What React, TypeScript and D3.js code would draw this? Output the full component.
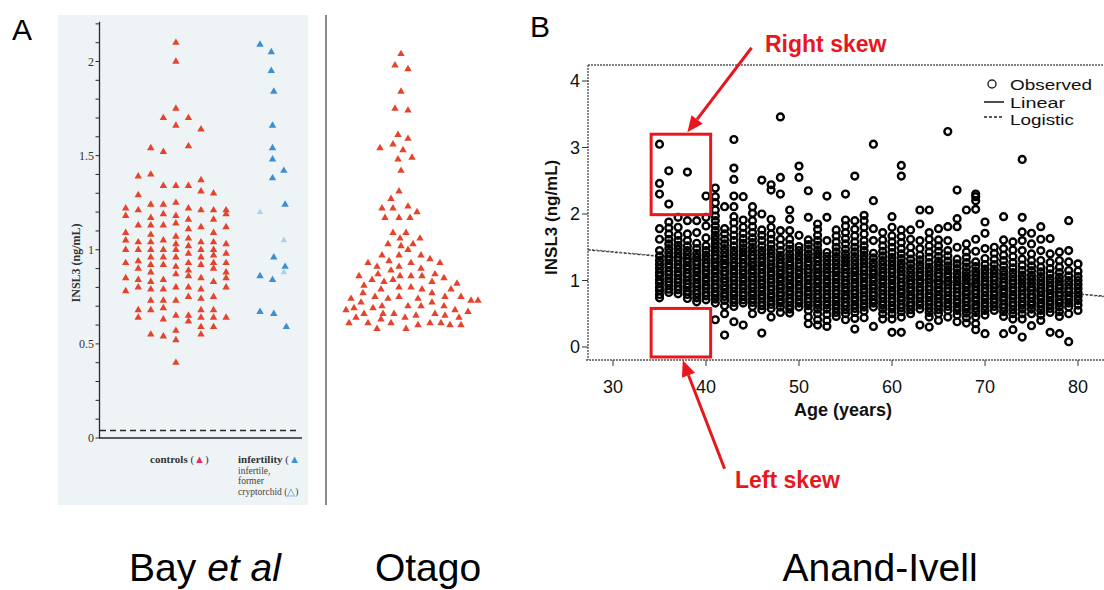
import React from "react";
import * as d3 from "d3";

const W = 1104;
const H = 590;

// ---------- Panel A, Bay et al: controls, nine columns of values (ng/mL) ----------
const bayControlColumns: number[][] = [
  [1.22, 1.18, 1.09, 1.05, 1.0, 0.93, 0.85, 0.78],
  [1.39, 1.29, 1.21, 1.13, 1.04, 1.0, 0.94, 0.9, 0.84, 0.8, 0.68, 0.64],
  [1.54, 1.4, 1.24, 1.17, 1.13, 1.08, 1.04, 1.0, 0.96, 0.92, 0.88, 0.83, 0.79, 0.73, 0.68, 0.55],
  [1.7, 1.52, 1.34, 1.24, 1.19, 1.13, 1.05, 1.0, 0.96, 0.92, 0.84, 0.79, 0.73, 0.69, 0.63, 0.54],
  [2.1, 2.0, 1.75, 1.66, 1.34, 1.25, 1.18, 1.14, 1.07, 1.03, 1.0, 0.96, 0.91, 0.87, 0.8, 0.73, 0.65, 0.57, 0.52, 0.4],
  [1.7, 1.55, 1.34, 1.22, 1.16, 1.11, 1.06, 1.02, 0.98, 0.93, 0.89, 0.86, 0.8, 0.75, 0.65, 0.62],
  [1.64, 1.37, 1.31, 1.21, 1.12, 1.04, 1.0, 0.96, 0.92, 0.85, 0.79, 0.74, 0.68, 0.64, 0.59, 0.55],
  [1.3, 1.21, 1.16, 1.09, 1.04, 1.0, 0.97, 0.93, 0.9, 0.83, 0.75, 0.68, 0.64, 0.59],
  [1.21, 1.19, 1.12, 1.03, 0.98, 0.93, 0.88, 0.85, 0.8, 0.64],
];

// infertility group (filled blue) and former cryptorchid (pale blue)
const bayInfertileValues = [2.09, 2.05, 1.95, 1.84, 1.66, 1.54, 1.48, 1.42, 1.38, 1.24, 0.96, 0.91, 0.86, 0.84, 0.67, 0.66, 0.59];
const bayInfertileSlots = [10.7, 11.6, 11.6, 11.8, 11.7, 11.7, 11.7, 12.6, 11.7, 12.7, 11.8, 12.7, 10.7, 11.7, 10.7, 11.8, 12.8];
const bayCryptValues = [1.2, 1.05, 0.88];
const bayCryptSlots = [10.7, 12.6, 12.6];

const bayTicks = [0, 0.5, 1, 1.5, 2];
const bayTickLabels = ["0", "0.5", "1", "1.5", "2"];
const bayMinorTicks = d3.range(0, 23).map((i) => i / 10);

// ---------- Panel A, Otago cohort ----------
const otagoValues = [
  2.04, 1.98, 1.96, 1.84, 1.75, 1.74, 1.61, 1.59, 1.56, 1.54, 1.53, 1.49, 1.48, 1.42,
  1.31, 1.27, 1.22, 1.22, 1.23, 1.2, 1.17, 1.17, 1.17, 1.09, 1.09, 1.06, 1.06, 1.03, 1.03,
  1.02, 1.0, 0.97, 0.97, 0.97, 0.95, 0.94, 0.93, 0.93, 0.93, 0.91, 0.91, 0.9, 0.89, 0.87,
  0.87, 0.86, 0.86, 0.86, 0.86, 0.85, 0.84, 0.84, 0.83, 0.83, 0.82, 0.81, 0.8, 0.8, 0.79,
  0.79, 0.79, 0.77, 0.77, 0.75, 0.75, 0.75, 0.75, 0.74, 0.74, 0.74, 0.73, 0.73, 0.72,
  0.72, 0.7, 0.7, 0.7, 0.7, 0.69, 0.69, 0.68, 0.68, 0.67, 0.66, 0.66, 0.66, 0.66, 0.65,
  0.65, 0.64, 0.64, 0.64, 0.63, 0.61, 0.61, 0.61, 0.61, 0.61, 0.6, 0.6, 0.6, 0.58, 0.58,
];
const otagoSlots = [
  0, -0.6, 0.7, 0, -0.6, 0.7, -0.3, 0.7, -0.8, -2.1, 0.2, 1.1, -0.3, 0,
  -0.2, -1.0, -1.9, -0.8, 0.7, 1.6, -1.6, -0.2, 0.9, -0.8, 0.5, -0.1, 1.9, -1.3, 1.2,
  0, 0.7, -1.9, -0.2, 2.0, 2.9, -1.2, 1.0, -3.3, 3.9, -2.4, -0.2, 2.0, -1.0, -2.3,
  3.4, -4.2, -0.1, 1.0, 2.1, 4.3, -0.8, -2.9, -1.7, 3.1, 5.6, -3.7, -0.2, 1.0, -2.0,
  2.1, 5.0, 3.1, -3.8, 6.0, -2.6, -0.2, 4.4, -1.3, -5.0, 1.7, 7.7, 7.0, -4.0,
  3.1, 0.7, -1.9, 4.3, 2.0, -4.7, -2.8, 5.4, -5.5, 6.7, -1.8, -0.7, 3.4, -3.7, 1.5,
  4.4, 5.8, -4.5, 0.4, -2.0, -5.2, -3.3, 2.9, 4.0, -1.0, 1.7, 4.9, 6.0, -2.4, 0.5,
];

// ---------- Panel B, Anand-Ivell: observed INSL3 (ng/mL) by age (years) ----------
const obsAges = [
  35, 36, 37, 38, 39, 40, 41, 42, 43, 44, 45, 46, 47, 48, 49, 50, 51, 52, 53, 54, 55, 56, 57,
  58, 59, 60, 61, 62, 63, 64, 65, 66, 67, 68, 69, 70, 71, 72, 73, 74, 75, 76, 77, 78, 79, 80,
];
const obsValues: number[][] = [
  [0.74, 0.79, 0.85, 0.9, 0.96, 1.01, 1.07, 1.12, 1.18, 1.24, 1.3, 1.37, 1.45, 1.62, 1.78, 2.3, 2.46, 3.05],
  [0.82, 0.87, 0.93, 0.98, 1.03, 1.09, 1.14, 1.2, 1.25, 1.31, 1.36, 1.42, 1.48, 1.55, 1.62, 1.7, 1.79, 1.88, 2.15, 2.65],
  [0.8, 0.86, 0.91, 0.97, 1.02, 1.08, 1.13, 1.19, 1.24, 1.3, 1.35, 1.41, 1.47, 1.53, 1.6, 1.68, 1.8, 1.95],
  [0.73, 0.79, 0.84, 0.9, 0.95, 1.0, 1.06, 1.11, 1.17, 1.22, 1.28, 1.33, 1.39, 1.45, 1.52, 1.6, 1.7, 1.9, 2.63],
  [0.68, 0.74, 0.8, 0.85, 0.91, 0.96, 1.02, 1.07, 1.13, 1.18, 1.24, 1.29, 1.35, 1.41, 1.48, 1.56, 1.72, 1.9],
  [0.71, 0.77, 0.82, 0.88, 0.93, 0.99, 1.04, 1.1, 1.15, 1.21, 1.26, 1.32, 1.38, 1.45, 1.52, 1.64, 1.82, 1.95, 2.27],
  [0.41, 0.66, 0.72, 0.78, 0.83, 0.89, 0.94, 1.0, 1.05, 1.11, 1.16, 1.22, 1.27, 1.33, 1.38, 1.44, 1.5, 1.56, 1.62, 1.68, 1.75, 1.82, 1.9, 1.97, 2.06, 2.17, 2.26, 2.39],
  [0.18, 0.5, 0.62, 0.7, 0.76, 0.81, 0.87, 0.92, 0.98, 1.03, 1.09, 1.14, 1.2, 1.25, 1.31, 1.36, 1.42, 1.48, 1.55, 1.62, 1.7, 1.78, 2.11],
  [0.38, 0.61, 0.67, 0.72, 0.78, 0.83, 0.89, 0.94, 1.0, 1.05, 1.11, 1.16, 1.22, 1.27, 1.33, 1.39, 1.45, 1.52, 1.6, 1.68, 1.77, 1.87, 1.96, 2.11, 2.27, 2.52, 2.69, 3.12],
  [0.33, 0.66, 0.71, 0.77, 0.82, 0.88, 0.93, 0.99, 1.04, 1.1, 1.15, 1.21, 1.26, 1.32, 1.37, 1.43, 1.49, 1.56, 1.63, 1.71, 1.8, 1.91, 2.26],
  [0.5, 0.61, 0.67, 0.72, 0.78, 0.83, 0.89, 0.94, 1.0, 1.05, 1.11, 1.16, 1.22, 1.27, 1.33, 1.38, 1.44, 1.5, 1.57, 1.64, 1.72, 1.81, 1.9, 2.01, 2.11],
  [0.21, 0.56, 0.62, 0.67, 0.73, 0.78, 0.84, 0.89, 0.95, 1.0, 1.06, 1.11, 1.17, 1.22, 1.28, 1.33, 1.39, 1.45, 1.52, 1.6, 1.68, 1.76, 2.0, 2.51],
  [0.45, 0.58, 0.64, 0.69, 0.75, 0.8, 0.86, 0.91, 0.97, 1.02, 1.08, 1.13, 1.19, 1.24, 1.3, 1.35, 1.41, 1.47, 1.54, 1.62, 1.7, 1.8, 1.92, 2.36, 2.44],
  [0.52, 0.6, 0.66, 0.71, 0.77, 0.82, 0.88, 0.93, 0.99, 1.04, 1.1, 1.15, 1.21, 1.26, 1.32, 1.38, 1.45, 1.53, 1.62, 1.75, 2.3, 2.55, 3.46],
  [0.51, 0.57, 0.62, 0.68, 0.73, 0.79, 0.84, 0.9, 0.95, 1.01, 1.06, 1.12, 1.17, 1.23, 1.28, 1.34, 1.4, 1.47, 1.54, 1.62, 1.75, 1.92, 2.06],
  [0.6, 0.66, 0.71, 0.77, 0.82, 0.88, 0.93, 0.99, 1.04, 1.1, 1.15, 1.21, 1.26, 1.32, 1.38, 1.45, 1.51, 1.68, 2.55, 2.72],
  [0.35, 0.45, 0.55, 0.62, 0.68, 0.73, 0.79, 0.84, 0.9, 0.95, 1.01, 1.06, 1.12, 1.17, 1.23, 1.28, 1.34, 1.4, 1.47, 1.54, 1.61, 1.95, 2.35],
  [0.33, 0.41, 0.5, 0.57, 0.63, 0.68, 0.74, 0.79, 0.85, 0.9, 0.96, 1.01, 1.07, 1.12, 1.18, 1.23, 1.29, 1.34, 1.4, 1.46, 1.53, 1.6, 1.68, 1.77, 1.85],
  [0.31, 0.4, 0.49, 0.57, 0.63, 0.68, 0.74, 0.79, 0.85, 0.9, 0.96, 1.01, 1.07, 1.12, 1.18, 1.24, 1.3, 1.36, 1.42, 1.6, 1.95, 2.27],
  [0.46, 0.52, 0.58, 0.63, 0.69, 0.74, 0.8, 0.85, 0.91, 0.96, 1.02, 1.07, 1.13, 1.18, 1.24, 1.3, 1.36, 1.43, 1.5, 1.58, 1.67, 1.76],
  [0.41, 0.5, 0.56, 0.62, 0.67, 0.73, 0.78, 0.84, 0.89, 0.95, 1.0, 1.06, 1.11, 1.17, 1.22, 1.28, 1.34, 1.4, 1.47, 1.55, 1.63, 1.72, 1.82, 1.91, 2.3],
  [0.27, 0.43, 0.52, 0.58, 0.63, 0.69, 0.74, 0.8, 0.85, 0.91, 0.96, 1.02, 1.07, 1.13, 1.18, 1.24, 1.3, 1.36, 1.43, 1.5, 1.58, 1.67, 1.77, 1.9, 2.57],
  [0.44, 0.54, 0.6, 0.65, 0.71, 0.76, 0.82, 0.87, 0.93, 0.98, 1.04, 1.09, 1.15, 1.2, 1.26, 1.32, 1.38, 1.45, 1.52, 1.6, 1.7, 1.8, 1.9, 1.98],
  [0.31, 0.6, 0.66, 0.71, 0.77, 0.82, 0.88, 0.93, 0.99, 1.04, 1.1, 1.15, 1.21, 1.27, 1.34, 1.41, 1.6, 1.78, 2.2, 3.05],
  [0.42, 0.5, 0.57, 0.63, 0.68, 0.74, 0.79, 0.85, 0.9, 0.96, 1.01, 1.07, 1.12, 1.18, 1.24, 1.3, 1.37, 1.44, 1.52, 1.61, 1.72],
  [0.22, 0.42, 0.5, 0.57, 0.62, 0.68, 0.73, 0.79, 0.84, 0.9, 0.95, 1.01, 1.06, 1.12, 1.17, 1.23, 1.29, 1.35, 1.42, 1.5, 1.58, 1.67, 1.8, 1.96],
  [0.22, 0.45, 0.53, 0.59, 0.64, 0.7, 0.75, 0.81, 0.86, 0.92, 0.97, 1.03, 1.08, 1.14, 1.2, 1.26, 1.33, 1.4, 1.48, 1.57, 1.66, 1.76, 2.57, 2.73],
  [0.5, 0.56, 0.62, 0.67, 0.73, 0.78, 0.84, 0.89, 0.95, 1.0, 1.06, 1.12, 1.18, 1.25, 1.32, 1.4, 1.5, 1.62, 1.76],
  [0.33, 0.57, 0.63, 0.68, 0.74, 0.79, 0.85, 0.9, 0.96, 1.01, 1.07, 1.12, 1.18, 1.24, 1.31, 1.38, 1.48, 1.6, 1.85, 2.06],
  [0.3, 0.45, 0.52, 0.58, 0.64, 0.69, 0.75, 0.8, 0.86, 0.91, 0.97, 1.02, 1.08, 1.14, 1.2, 1.27, 1.35, 1.43, 1.52, 1.62, 1.72, 2.06],
  [0.4, 0.5, 0.56, 0.62, 0.67, 0.73, 0.78, 0.84, 0.89, 0.95, 1.0, 1.06, 1.11, 1.17, 1.23, 1.29, 1.36, 1.44, 1.52, 1.61, 1.78],
  [0.45, 0.55, 0.61, 0.66, 0.72, 0.77, 0.83, 0.88, 0.94, 0.99, 1.05, 1.1, 1.16, 1.22, 1.29, 1.37, 1.45, 1.6, 1.81, 3.24],
  [0.38, 0.48, 0.55, 0.6, 0.66, 0.71, 0.77, 0.82, 0.88, 0.93, 0.99, 1.05, 1.11, 1.18, 1.25, 1.32, 1.5, 1.81, 1.93, 2.36],
  [0.36, 0.44, 0.51, 0.57, 0.62, 0.68, 0.73, 0.79, 0.84, 0.9, 0.95, 1.01, 1.07, 1.13, 1.2, 1.27, 1.35, 1.43, 1.55, 2.06],
  [0.26, 0.35, 0.45, 0.52, 0.58, 0.63, 0.69, 0.74, 0.8, 0.85, 0.91, 0.96, 1.02, 1.08, 1.14, 1.21, 1.28, 1.44, 1.62, 2.07, 2.2, 2.26, 2.3],
  [0.2, 0.48, 0.55, 0.61, 0.66, 0.72, 0.77, 0.83, 0.88, 0.94, 0.99, 1.05, 1.11, 1.17, 1.24, 1.33, 1.48, 1.71, 1.88],
  [0.55, 0.61, 0.67, 0.72, 0.78, 0.83, 0.89, 0.94, 1.0, 1.05, 1.11, 1.17, 1.24, 1.32, 1.41, 1.5],
  [0.2, 0.46, 0.53, 0.59, 0.64, 0.7, 0.75, 0.81, 0.86, 0.92, 0.97, 1.03, 1.09, 1.15, 1.22, 1.3, 1.38, 1.48, 1.61, 1.96],
  [0.26, 0.42, 0.5, 0.56, 0.62, 0.67, 0.73, 0.78, 0.84, 0.89, 0.95, 1.0, 1.06, 1.12, 1.19, 1.27, 1.36, 1.46, 1.58],
  [0.15, 0.42, 0.5, 0.57, 0.63, 0.68, 0.74, 0.79, 0.85, 0.9, 0.96, 1.02, 1.08, 1.15, 1.23, 1.32, 1.45, 1.6, 1.73, 1.95, 2.82],
  [0.32, 0.5, 0.57, 0.63, 0.68, 0.74, 0.79, 0.85, 0.9, 0.96, 1.02, 1.08, 1.15, 1.22, 1.3, 1.4, 1.55, 1.71],
  [0.4, 0.48, 0.55, 0.61, 0.66, 0.72, 0.77, 0.83, 0.88, 0.94, 1.0, 1.06, 1.13, 1.2, 1.3, 1.45, 1.62, 1.81],
  [0.22, 0.52, 0.58, 0.64, 0.69, 0.75, 0.8, 0.86, 0.91, 0.97, 1.03, 1.1, 1.18, 1.27, 1.4, 1.63],
  [0.2, 0.46, 0.53, 0.6, 0.66, 0.71, 0.77, 0.82, 0.88, 0.93, 0.99, 1.05, 1.12, 1.2, 1.3, 1.43],
  [0.08, 0.5, 0.6, 0.66, 0.72, 0.77, 0.83, 0.88, 0.94, 1.0, 1.07, 1.15, 1.28, 1.45, 1.9],
  [0.55, 0.63, 0.7, 0.76, 0.82, 0.88, 0.94, 1.0, 1.06, 1.14, 1.25],
];

// fitted trends (endpoints)
const fitAges = [27.3, 83.2];
const linearFit = [1.46, 0.76];
const logisticFit = [1.47, 0.75];

const bYTicks = [0, 1, 2, 3, 4];
const bXTicks = [30, 40, 50, 60, 70, 80];

const legendLabels = ["Observed", "Linear", "Logistic"];
const legendWidths = [82, 55, 64];

// highlighted regions (age range, value range)
const skewBoxAges = [34.1, 40.5];
const rightSkewValues = [1.99, 3.2];
const leftSkewValues = [-0.15, 0.58];

const RED = "#e8161d";

// ---------- scales ----------
const bayY = d3.scaleLinear().domain([0, 2]).range([438, 61.5]);
const bayX = d3.scaleLinear().domain([0, 8]).range([125.7, 226.1]);
const otagoX = d3.scaleLinear().domain([0, 1]).range([401, 411]);
const bX = d3.scaleLinear().domain([30, 80]).range([613, 1078]);
const bY = d3.scaleLinear().domain([0, 4]).range([347, 81]);

const triangle = d3.symbol(d3.symbolTriangle, 24)() as string;
const smallTriangle = d3.symbol(d3.symbolTriangle, 18)() as string;

function arrowPath(x1: number, y1: number, x2: number, y2: number, len = 16, half = 7) {
  const a = Math.atan2(y2 - y1, x2 - x1);
  const bx = x2 - len * Math.cos(a);
  const by = y2 - len * Math.sin(a);
  const px = -Math.sin(a) * half;
  const py = Math.cos(a) * half;
  return {
    shaft: `M${x1},${y1}L${bx},${by}`,
    head: `M${x2},${y2}L${bx + px},${by + py}L${bx - px},${by - py}Z`,
  };
}

const fitLine = d3
  .line<number>()
  .x((_, i) => bX(fitAges[i]))
  .y((d) => bY(d));

export default function App() {
  const sans = "'Liberation Sans', Arial, sans-serif";
  const serif = "'Liberation Serif', 'Times New Roman', serif";

  const rightArrow = arrowPath(bX(44.9), bY(4.5), bX(38.0), bY(3.23));
  const leftArrow = arrowPath(bX(42.0), bY(-1.83), bX(37.5), bY(-0.2));

  const obsPoints: { age: number; v: number }[] = [];
  obsAges.forEach((age, i) => obsValues[i].forEach((v) => obsPoints.push({ age, v })));

  const legendY = [90, 107.5, 125];

  return (
    <svg
      width={W}
      height={H}
      viewBox={`0 0 ${W} ${H}`}
      style={{ position: "absolute", left: 0, top: 0, background: "#fff" }}
    >
      {/* ===== Panel A ===== */}
      <text x={12} y={40} fontFamily={sans} fontSize={30}>A</text>

      {/* scanned page background */}
      <rect x={58} y={15} width={250} height={490} fill="#eef3f6" />

      {/* Bay axis */}
      <g stroke="#2a2a2a" fill="none">
        <line x1={99.5} x2={99.5} y1={bayY(2.2) - 2} y2={bayY(0)} strokeWidth={1.3} />
        <line x1={99} x2={302} y1={bayY(0)} y2={bayY(0)} strokeWidth={1.3} />
        {bayMinorTicks.map((t) => (
          <line key={t} x1={95.5} x2={99.5} y1={bayY(t)} y2={bayY(t)} strokeWidth={1} />
        ))}
        <line
          x1={100}
          x2={300}
          y1={bayY(0.04)}
          y2={bayY(0.04)}
          strokeWidth={1.5}
          strokeDasharray="6,4"
        />
      </g>
      {bayTicks.map((t, i) => (
        <text
          key={t}
          x={94}
          y={bayY(t) + 4}
          textAnchor="end"
          fontFamily={serif}
          fontSize={12}
          fill="#333"
        >
          {bayTickLabels[i]}
        </text>
      ))}
      <text
        transform={`translate(80,${bayY(0.93)}) rotate(-90)`}
        textAnchor="middle"
        fontFamily={serif}
        fontSize={12}
        fontWeight="bold"
        fill="#333"
      >
        INSL3 (ng/mL)
      </text>

      {/* Bay controls */}
      {bayControlColumns.map((col, k) =>
        col.map((v, j) => (
          <path
            key={`c${k}-${j}`}
            d={triangle}
            transform={`translate(${bayX(k)},${bayY(v)})`}
            fill="#e5442b"
          />
        ))
      )}
      {bayInfertileValues.map((v, i) => (
        <path
          key={`inf${i}`}
          d={triangle}
          transform={`translate(${bayX(bayInfertileSlots[i])},${bayY(v)})`}
          fill="#3c8fd3"
        />
      ))}
      {bayCryptValues.map((v, i) => (
        <path
          key={`cr${i}`}
          d={smallTriangle}
          transform={`translate(${bayX(bayCryptSlots[i])},${bayY(v)})`}
          fill="#a9d2ef"
        />
      ))}

      <text x={150} y={463} fontFamily={serif} fontSize={11} fontWeight="bold" fill="#333">
        controls{" "}
        <tspan fontWeight="normal">(</tspan>
        <tspan fill="#e0306a">▲</tspan>
        <tspan fontWeight="normal">)</tspan>
      </text>
      <text x={238} y={463} fontFamily={serif} fontSize={11} fontWeight="bold" fill="#333">
        infertility <tspan fontWeight="normal">(</tspan>
        <tspan fill="#3c8fd3">▲</tspan>
      </text>
      <text x={238} y={474} fontFamily={serif} fontSize={9.5} fill="#444">infertile,</text>
      <text x={238} y={484} fontFamily={serif} fontSize={9.5} fill="#444">former</text>
      <text x={238} y={495} fontFamily={serif} fontSize={9.5} fill="#444">
        cryptorchid (<tspan fill="#3c8fd3">△</tspan>)
      </text>

      {/* divider */}
      <line x1={326} x2={326} y1={15} y2={505} stroke="#8a8a8a" strokeWidth={2} />

      {/* Otago */}
      {otagoValues.map((v, i) => (
        <path
          key={`o${i}`}
          d={triangle}
          transform={`translate(${otagoX(otagoSlots[i])},${bayY(v)})`}
          fill="#e5442b"
        />
      ))}

      <text x={205} y={581} textAnchor="middle" fontFamily={sans} fontSize={39}>
        Bay <tspan fontStyle="italic">et al</tspan>
      </text>
      <text x={428} y={581} textAnchor="middle" fontFamily={sans} fontSize={39}>
        Otago
      </text>

      {/* ===== Panel B ===== */}
      <text x={530} y={37} fontFamily={sans} fontSize={30}>B</text>

      <g stroke="#555" fill="none" strokeWidth={1.4} strokeDasharray="2,1">
        <line x1={588} x2={W} y1={65} y2={65} />
        <line x1={588} x2={588} y1={65} y2={360} />
        <line x1={586} x2={W} y1={360} y2={360} />
      </g>
      {bYTicks.map((t) => (
        <g key={t}>
          <line x1={582} x2={588} y1={bY(t)} y2={bY(t)} stroke="#333" strokeWidth={1} />
          <text
            x={580}
            y={bY(t) + 6}
            textAnchor="end"
            fontFamily={sans}
            fontSize={18}
            fill="#111"
          >
            {t}
          </text>
        </g>
      ))}
      {bXTicks.map((t) => (
        <g key={t}>
          <line x1={bX(t)} x2={bX(t)} y1={360} y2={366} stroke="#333" strokeWidth={1} />
          <text
            x={bX(t)}
            y={393}
            textAnchor="middle"
            fontFamily={sans}
            fontSize={18}
            fill="#111"
          >
            {t}
          </text>
        </g>
      ))}
      <text
        x={843}
        y={416}
        textAnchor="middle"
        fontFamily={sans}
        fontSize={18}
        fontWeight="bold"
        fill="#111"
      >
        Age (years)
      </text>
      <text
        transform={`translate(557,${bY(1.95)}) rotate(-90)`}
        textAnchor="middle"
        fontFamily={sans}
        fontSize={17}
        fontWeight="bold"
        fill="#111"
      >
        INSL3 (ng/mL)
      </text>

      {/* fitted trends */}
      <path
        d={fitLine(linearFit) as string}
        fill="none"
        stroke="#333"
        strokeWidth={1.2}
        strokeDasharray="3,1.5"
      />
      <path
        d={fitLine(logisticFit) as string}
        fill="none"
        stroke="#555"
        strokeWidth={1}
        strokeDasharray="2,2"
      />

      {/* observed values: heavy open rings, which merge into solid bars where dense */}
      <g fill="none" stroke="#000" strokeWidth={2.4}>
        {obsPoints.map((p, i) => (
          <circle key={i} cx={bX(p.age)} cy={bY(p.v)} r={3.4} />
        ))}
      </g>

      {/* legend */}
      <circle cx={992} cy={84} r={4} fill="none" stroke="#222" strokeWidth={1.4} />
      <line x1={984} x2={1004} y1={102} y2={102} stroke="#222" strokeWidth={1.6} />
      <line
        x1={984}
        x2={1004}
        y1={117}
        y2={117}
        stroke="#222"
        strokeWidth={1.6}
        strokeDasharray="3,2"
      />
      {legendLabels.map((label, i) => (
        <text
          key={label}
          x={1010}
          y={legendY[i]}
          fontFamily={sans}
          fontSize={15.5}
          textLength={legendWidths[i]}
          lengthAdjust="spacingAndGlyphs"
          fill="#111"
        >
          {label}
        </text>
      ))}

      {/* skew annotations */}
      <g fill="none" stroke={RED} strokeWidth={3}>
        <rect
          x={bX(skewBoxAges[0])}
          y={bY(rightSkewValues[1])}
          width={bX(skewBoxAges[1]) - bX(skewBoxAges[0])}
          height={bY(rightSkewValues[0]) - bY(rightSkewValues[1])}
        />
        <rect
          x={bX(skewBoxAges[0])}
          y={bY(leftSkewValues[1])}
          width={bX(skewBoxAges[1]) - bX(skewBoxAges[0])}
          height={bY(leftSkewValues[0]) - bY(leftSkewValues[1])}
        />
        <path d={rightArrow.shaft} />
        <path d={leftArrow.shaft} />
      </g>
      <path d={rightArrow.head} fill={RED} />
      <path d={leftArrow.head} fill={RED} />
      <text x={765} y={52} fontFamily={sans} fontSize={23} fontWeight="bold" fill={RED}>
        Right skew
      </text>
      <text x={735} y={488} fontFamily={sans} fontSize={23} fontWeight="bold" fill={RED}>
        Left skew
      </text>

      <text x={880} y={581} textAnchor="middle" fontFamily={sans} fontSize={39}>
        Anand-Ivell
      </text>
    </svg>
  );
}
